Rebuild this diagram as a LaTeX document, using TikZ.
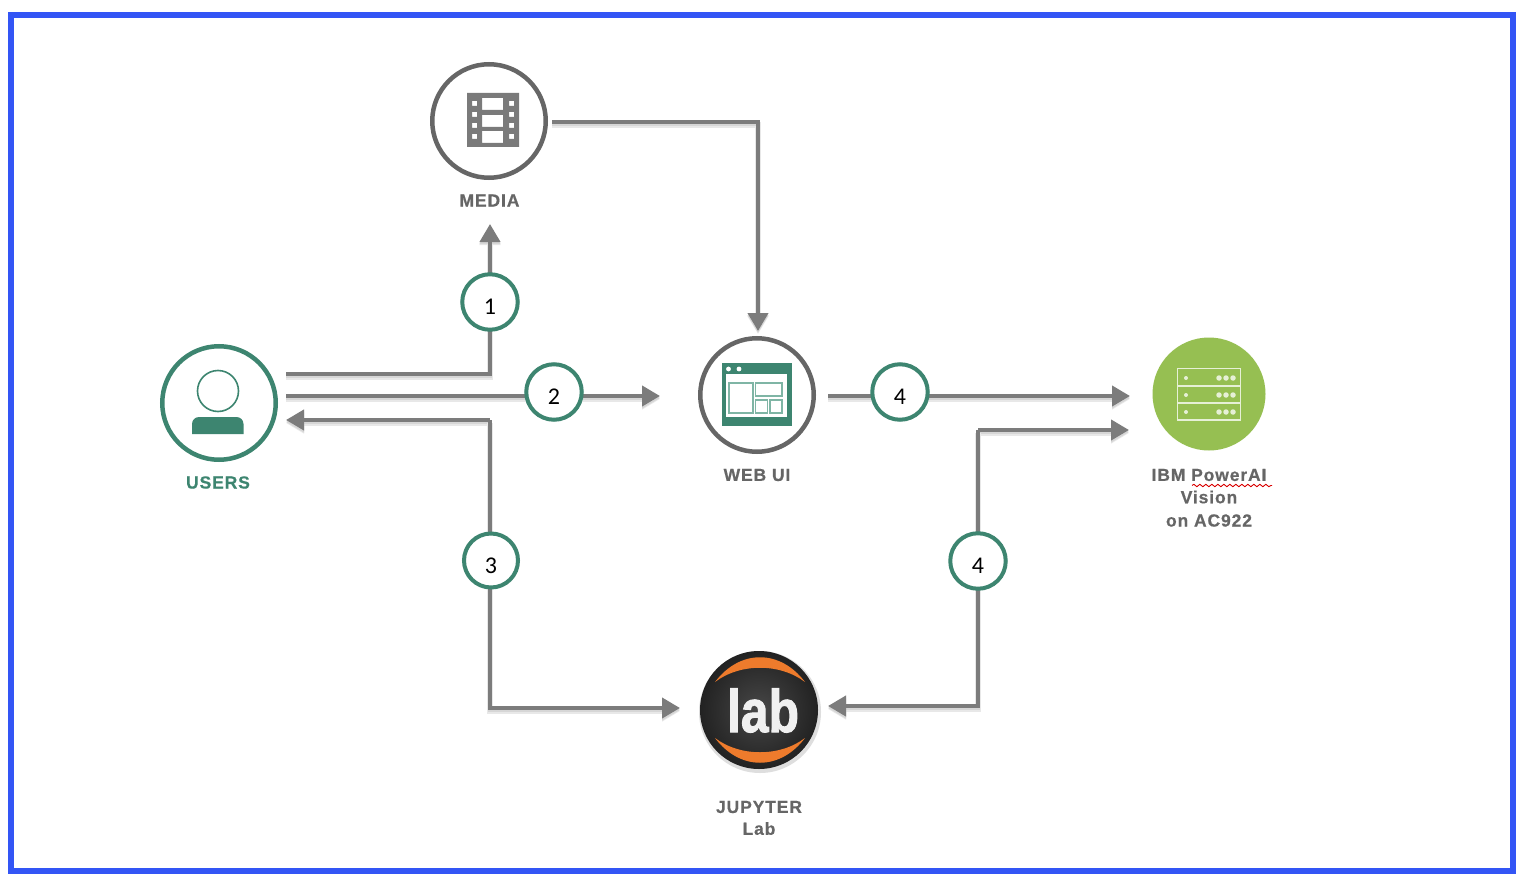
\documentclass[tikz,border=0pt]{standalone}
\usepackage{fontspec}
\setmainfont{Liberation Sans}
\newfontfamily\lblfont[LetterSpace=5,BoldFeatures={FakeBold=0.5}]{Liberation Sans}
\newfontfamily\labfont[BoldFeatures={FakeBold=1.8}]{Liberation Sans}
\newfontfamily\numfont{Carlito}
\usetikzlibrary{arrows.meta,decorations.pathmorphing,calc}
\definecolor{frameblue}{HTML}{3355F5}
\definecolor{tealg}{HTML}{3D8570}
\definecolor{tealt}{HTML}{7FB5A5}
\definecolor{ringgray}{HTML}{666666}
\definecolor{filmgray}{HTML}{7A7A7A}
\definecolor{linegray}{HTML}{7C7C7C}
\definecolor{lblgray}{HTML}{666666}
\definecolor{leaf}{HTML}{96BF52}
\definecolor{servw}{HTML}{E6F0D6}
\definecolor{labor}{HTML}{EE7B2C}
\definecolor{labdark}{HTML}{222222}
\tikzset{
  x=1pt,y=-1pt,
  ring/.style={circle,draw=ringgray,line width=4.5pt,fill=white,minimum size=113.5pt,inner sep=0pt},
  usering/.style={ring,draw=tealg},
  stepnum/.style={circle,draw=tealg,line width=4pt,fill=white,minimum size=55.5pt,inner sep=0pt,font=\numfont\fontsize{24}{24}\selectfont},
  conn/.style={draw=linegray,line width=4pt,line cap=butt,line join=miter,
    preaction={draw=black!9,line width=6pt,transform canvas={yshift=-3pt}},
    preaction={draw=black!16,line width=4pt,transform canvas={yshift=-2pt}}},
  tip/.style={-{Triangle[length=18pt,width=20pt]}},
  lbl/.style={font=\lblfont\bfseries\fontsize{17.5}{17.5}\selectfont,text=lblgray,inner sep=0pt},
  panel/.style={draw=tealt,line width=1.6pt,fill=white},
  servline/.style={draw=servw,line width=1.8pt},
  servdot/.style={circle,fill=servw,inner sep=0pt,minimum size=5pt},
}
\newcommand{\stepdigit}[1]{\raisebox{-12.5pt}[0pt][0pt]{#1}}
\begin{document}
\begin{tikzpicture}
\useasboundingbox (0,0) rectangle (1526,888);
\fill[white] (0,0) rectangle (1526,888);
\draw[frameblue,line width=6pt] (11,15) rectangle (1513,871);

% connector ends
\coordinate (uA) at (286,374);
\coordinate (uB) at (286,396);
\coordinate (uC) at (286,420);
\coordinate (cA) at (490,374);
\coordinate (mediaIn) at (490,224);
\coordinate (webIn) at (660,396);
\coordinate (cC) at (490,420);
\coordinate (cD) at (490,708);
\coordinate (labW) at (680,708);
\coordinate (mediaOut) at (552,122);
\coordinate (cE) at (758,122);
\coordinate (webTop) at (758,331);
\coordinate (webOut) at (828,396);
\coordinate (ibmA) at (1130,396);
\coordinate (ibmB) at (1129,430);
\coordinate (cF) at (978,430);
\coordinate (cG) at (978,706);
\coordinate (labE) at (828,706);

% connectors
\draw[conn,tip] (uA) -- (cA) -- (mediaIn);
\draw[conn,tip] (uB) -- (webIn);
\draw[conn,tip] (cC) -- (uC);
\draw[conn,tip] (cC) -- (cD) -- (labW);
\draw[conn,tip] (mediaOut) -- (cE) -- (webTop);
\draw[conn,tip] (webOut) -- (ibmA);
\draw[conn,tip] (cF) -- (ibmB);
\draw[conn,tip] (cF) -- (cG) -- (labE);

% step markers
\node[stepnum] (s1) at (490,302) {\stepdigit{1}};
\node[stepnum] (s2) at (554,392) {\stepdigit{2}};
\node[stepnum,minimum size=54pt] (s3) at (491,560.5) {\stepdigit{3}};
\node[stepnum] (s4a) at (900,392) {\stepdigit{4}};
\node[stepnum] (s4b) at (978,561) {\stepdigit{4}};

% media
\node[ring] (media) at (489,121) {};
\fill[filmgray,even odd rule] (467,93) rectangle (519,147)
  (482,98) rectangle (503,110) (482,115) rectangle (503,127) (482,131) rectangle (503,143)
  (472,101) rectangle (477,106) (472,112) rectangle (477,117) (472,123) rectangle (477,128) (472,134) rectangle (477,139)
  (509,101) rectangle (514,106) (509,112) rectangle (514,117) (509,123) rectangle (514,128) (509,134) rectangle (514,139);
\node[lbl] (medialbl) at (489.5,200.5) {MEDIA};

% users
\node[usering] (users) at (219,403) {};
\draw[tealg,line width=1.6pt] (218,391) circle[radius=20.5];
\fill[tealg] (192,434) -- (192,424) arc[start angle=180,end angle=270,radius=7] -- (236.5,417) arc[start angle=-90,end angle=0,radius=7] -- (243.5,434) -- cycle;
\node[lbl,text=tealg] (userslbl) at (218,482.5) {USERS};

% web ui
\node[ring] (web) at (757,395) {};
\fill[tealg] (722,363) rectangle (792,426);
\fill[white] (726,374) rectangle (787,417);
\fill[white] (728.5,369) circle[radius=2.4] (739,369) circle[radius=2.4];
\draw[panel] (729,383) rectangle (753,413);
\draw[panel] (755.5,383) rectangle (782,396);
\draw[panel] (755.5,400) rectangle (767.5,413);
\draw[panel] (770,400) rectangle (782,413);
\node[lbl] (weblbl) at (757,475) {WEB UI};

% ibm
\node[circle,fill=leaf,minimum size=113pt,inner sep=0pt] (ibm) at (1209,394) {};
\draw[servline] (1177.5,368.5) rectangle (1240.5,420);
\draw[servline] (1177.5,386) -- (1240.5,386);
\draw[servline] (1177.5,403) -- (1240.5,403);
\foreach \yy in {378,395,412}{
  \node[servdot,minimum size=4pt] at (1186,\yy) {};
  \foreach \xx in {1219,1226,1233}{\node[servdot,minimum size=5.5pt] at (\xx,\yy) {};}
}
\node[lbl] (ibml1) at (1209,475) {IBM PowerAI};
\node[lbl] (ibml2) at (1209,497) {Vision};
\node[lbl] (ibml3) at (1209,520.5) {on AC922};
\draw[red!85!black,line width=.9pt,decorate,decoration={snake,amplitude=1.2pt,segment length=6pt}] (1192,485.5) -- (1272,485.5);

% jupyter lab
\fill[black!13] (760,712) circle[radius=61];
\shade[inner color=black!72,outer color=labdark] (759,710) circle[radius=59];
\node[circle,minimum size=118pt,inner sep=0pt] (lab) at (759,710) {};
\fill[labor] (715,682) .. controls (740,649) and (780,649) .. (805,682) .. controls (780,663) and (740,663) .. cycle;
\fill[labor] (715,738) .. controls (740,771) and (780,771) .. (805,738) .. controls (780,757) and (740,757) .. cycle;
\node[font=\labfont\bfseries\fontsize{60}{60}\selectfont,text=white!94!black,xscale=.83,inner sep=0pt,anchor=base] (labtxt) at (763,732) {lab};
\node[lbl] (lablbl1) at (759,807) {JUPYTER};
\node[lbl] (lablbl2) at (759,828.5) {Lab};
\end{tikzpicture}
\end{document}
